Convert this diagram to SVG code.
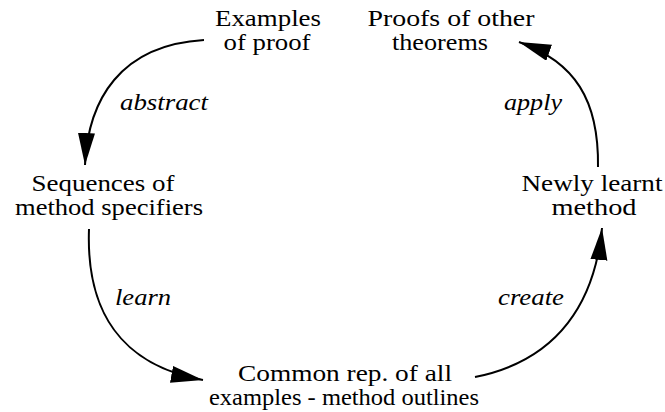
<svg xmlns="http://www.w3.org/2000/svg" width="665" height="412" viewBox="0 0 665 412">
<defs>
<marker id="arrow" markerUnits="userSpaceOnUse" markerWidth="34" markerHeight="18" refX="32" refY="8.5" orient="auto">
<path d="M0,0 L32,8.5 L0,17 Z" fill="#000"/>
</marker>
<style>
.edge{fill:none;stroke:#000;stroke-width:2;marker-end:url(#arrow)}
</style>
</defs>
<rect width="665" height="412" fill="#fff"/>
<g font-family="'Liberation Serif', 'Times New Roman', serif" font-size="24" fill="#000" text-anchor="middle">
<g id="examples">
<text><tspan x="268" y="26" textLength="106" lengthAdjust="spacingAndGlyphs">Examples</tspan><tspan x="267" y="50" textLength="87" lengthAdjust="spacingAndGlyphs">of proof</tspan></text>
</g>
<g id="proofs">
<text><tspan x="451" y="26" textLength="167" lengthAdjust="spacingAndGlyphs">Proofs of other</tspan><tspan x="440" y="50" textLength="96" lengthAdjust="spacingAndGlyphs">theorems</tspan></text>
</g>
<g id="sequences">
<text><tspan x="103" y="191" textLength="143" lengthAdjust="spacingAndGlyphs">Sequences of</tspan><tspan x="109" y="215" textLength="188" lengthAdjust="spacingAndGlyphs">method specifiers</tspan></text>
</g>
<g id="newly">
<text><tspan x="592" y="191" textLength="141" lengthAdjust="spacingAndGlyphs">Newly learnt</tspan><tspan x="594" y="215" textLength="85" lengthAdjust="spacingAndGlyphs">method</tspan></text>
</g>
<g id="common">
<text><tspan x="345" y="381" textLength="214" lengthAdjust="spacingAndGlyphs">Common rep. of all</tspan><tspan x="344" y="405" textLength="270" lengthAdjust="spacingAndGlyphs">examples - method outlines</tspan></text>
</g>
<g id="connectors">
<path class="edge" d="M204,40 C120,45 88,100 85,165"/>
<path class="edge" d="M89,229 C86,310 120,365 203,380"/>
<path class="edge" d="M475,377 C560,360 595,300 602,228"/>
<path class="edge" d="M598,167 C599,100 575,62 519,42"/>
<g font-style="italic">
<text x="164" y="110" textLength="88" lengthAdjust="spacingAndGlyphs">abstract</text>
<text x="533" y="110" textLength="58" lengthAdjust="spacingAndGlyphs">apply</text>
<text x="143" y="305" textLength="56" lengthAdjust="spacingAndGlyphs">learn</text>
<text x="531" y="305" textLength="66" lengthAdjust="spacingAndGlyphs">create</text>
</g>
</g>
</g>
</svg>
